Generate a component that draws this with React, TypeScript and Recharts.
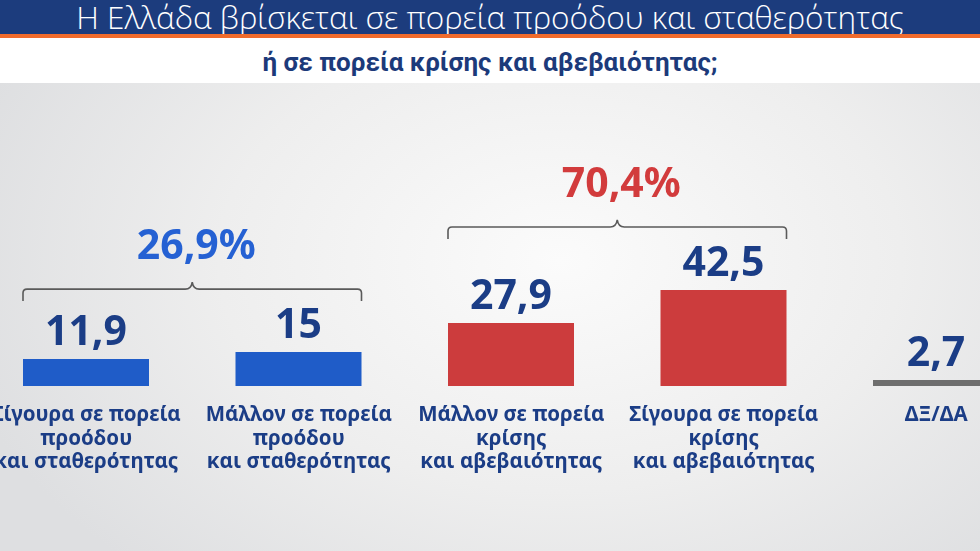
import React from 'react';
import { BarChart, Bar, XAxis, YAxis, Cell } from 'recharts';

// poll answers, in the order drawn
const categoryLines: string[][] = [
  ['Σίγουρα σε πορεία', 'προόδου', 'και σταθερότητας'],
  ['Μάλλον σε πορεία', 'προόδου', 'και σταθερότητας'],
  ['Μάλλον σε πορεία', 'κρίσης', 'και αβεβαιότητας'],
  ['Σίγουρα σε πορεία', 'κρίσης', 'και αβεβαιότητας'],
  ['ΔΞ/ΔΑ'],
];
const values = [11.9, 15, 27.9, 42.5, 2.7];
const barColors = ['#1f5cc8', '#1f5cc8', '#cc3c3d', '#cc3c3d', '#6e6e6e'];

// brace groups: drawn on the taller (second) bar of each pair
const groupTotals = [26.9, 70.4];
const groupColors = ['#2561d3', '#d23b3c'];
const groupEndIndex = [1, 3];

const NAVY = '#1b3d86';
const BAND = 212.5;
const CHART_W = BAND * values.length;
const CHART_H = 551;
const BAR_W = 126;

const fmt = (v: number) => String(v).replace('.', ',');

const data = values.map((v, i) => ({ name: String(i), value: v }));

const bracePath = (left: number, right: number, yB: number) => {
  const mid = (left + right) / 2;
  return [
    `M${left},${yB + 12}`,
    `L${left},${yB + 4}`,
    `Q${left},${yB} ${left + 4},${yB}`,
    `L${mid - 7},${yB}`,
    `Q${mid - 1},${yB} ${mid},${yB - 7}`,
    `Q${mid + 1},${yB} ${mid + 7},${yB}`,
    `L${right - 4},${yB}`,
    `Q${right},${yB} ${right},${yB + 4}`,
    `L${right},${yB + 12}`,
  ].join(' ');
};

const BarLabel = (props: any) => {
  const { x, y, width, value } = props;
  let index = props.index;
  if (index === undefined) index = values.indexOf(value);
  const cx = x + width / 2;
  const g = groupEndIndex.indexOf(index);
  let brace = null;
  if (g >= 0) {
    const left = x - BAND;
    const right = x + width;
    const yB = y - 63;
    brace = (
      <g>
        <path d={bracePath(left, right, yB)} fill="none" stroke="#5a5a5a" strokeWidth={1.6} />
        <text
          x={(left + right) / 2 + 4}
          y={yB - 30}
          textAnchor="middle"
          fill={groupColors[g]}
          fontSize={41}
          fontWeight={700}
          fontFamily="'Noto Sans', sans-serif"
        >
          {fmt(groupTotals[g])}%
        </text>
      </g>
    );
  }
  return (
    <g>
      <text
        x={cx}
        y={y - 14}
        textAnchor="middle"
        fill={NAVY}
        fontSize={41}
        fontWeight={700}
        fontFamily="'Noto Sans', sans-serif"
      >
        {fmt(value)}
      </text>
      {brace}
    </g>
  );
};

const CategoryTick = (props: any) => {
  const { x, y, payload } = props;
  const lines = categoryLines[Number(payload.value)] || [];
  return (
    <text
      x={x}
      y={y + 27}
      textAnchor="middle"
      fill={NAVY}
      fontSize={20.5}
      fontWeight={700}
      fontFamily="'Noto Sans', sans-serif"
    >
      {lines.map((l, i) => (
        <tspan key={i} x={x} dy={i === 0 ? 0 : 23.5}>
          {l}
        </tspan>
      ))}
    </text>
  );
};

export default function App() {
  return (
    <div
      style={{
        position: 'fixed',
        left: 0,
        top: 0,
        width: 980,
        height: 551,
        overflow: 'hidden',
        background: 'radial-gradient(ellipse 620px 420px at 560px 260px, #fbfbfb 0%, #eeeeee 55%, #dedfe1 100%)',
      }}
    >
      <div
        style={{
          position: 'absolute',
          left: 0,
          top: 0,
          width: 980,
          height: 34,
          background: '#1c3c7d',
          color: '#ffffff',
          fontFamily: "'Open Sans', sans-serif",
          fontWeight: 300,
          fontSize: 31.5,
          lineHeight: '34px',
          textAlign: 'center',
          whiteSpace: 'nowrap',
          overflow: 'hidden',
        }}
      >
        Η Ελλάδα βρίσκεται σε πορεία προόδου και σταθερότητας
      </div>
      <div style={{ position: 'absolute', left: 0, top: 34, width: 980, height: 4, background: '#f06b2c' }} />
      <div
        style={{
          position: 'absolute',
          left: 0,
          top: 38,
          width: 980,
          height: 45,
          background: '#ffffff',
          color: '#1c3a7a',
          fontFamily: "'Roboto', sans-serif",
          fontWeight: 700,
          fontSize: 26,
          lineHeight: '48px',
          textAlign: 'center',
          whiteSpace: 'nowrap',
        }}
      >
        ή σε πορεία κρίσης και αβεβαιότητας;
      </div>
      <div style={{ position: 'absolute', left: -20, top: 0 }}>
        <BarChart width={CHART_W} height={CHART_H} data={data} margin={{ top: 160, right: 0, bottom: 0, left: 0 }}>
          <XAxis dataKey="name" height={165} axisLine={false} tickLine={false} interval={0} tick={<CategoryTick />} />
          <YAxis hide domain={[0, 100]} />
          <Bar dataKey="value" barSize={BAR_W} isAnimationActive={false} label={<BarLabel />}>
            {data.map((d, i) => (
              <Cell key={`cell-${i}`} fill={barColors[i]} />
            ))}
          </Bar>
        </BarChart>
      </div>
    </div>
  );
}
